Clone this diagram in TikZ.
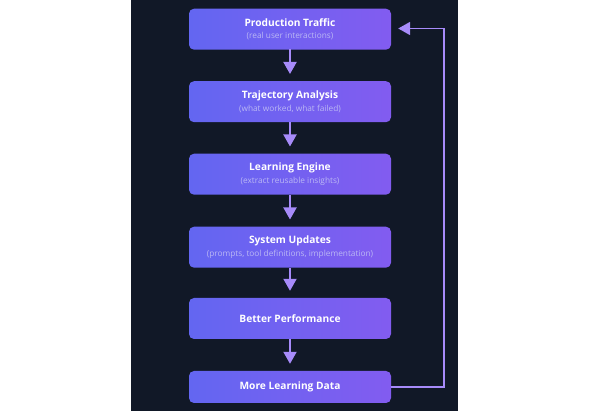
\documentclass[tikz,border=0pt]{standalone}
\usepackage{fontspec}
\setmainfont{Open Sans}
\usetikzlibrary{arrows.meta}
\definecolor{bgdark}{HTML}{111827}
\definecolor{boxleft}{HTML}{6366F1}
\definecolor{boxright}{HTML}{825CF0}
\definecolor{arrowc}{HTML}{A78BFA}
\definecolor{subc}{HTML}{BBB8F4}
\tikzset{
  stage/.style={rectangle, rounded corners=5pt, minimum width=202pt, minimum height=41pt,
    left color=boxleft, right color=boxright, draw=none, inner sep=0pt, align=center,
    text=white, font=\fontsize{10.2pt}{11pt}\bfseries},
  flow/.style={draw=arrowc, line width=2pt, -{Triangle[length=12pt,width=13pt]}, shorten >=7pt},
}
\newcommand{\subtxt}[1]{\\[1.5pt]{\fontsize{8.3pt}{8pt}\mdseries\color{subc}#1}}
\begin{document}
\begin{tikzpicture}[x=1pt,y=-1pt]
\useasboundingbox (0,0) rectangle (590,411);
\fill[white] (0,0) rectangle (590,411);
\fill[bgdark] (131,0) rectangle (458,411);
\node[stage] (pt) at (290,29.2) {Production Traffic\subtxt{(real user interactions)}};
\node[stage] (ta) at (290,101.7) {Trajectory Analysis\subtxt{(what worked, what failed)}};
\node[stage] (le) at (290,174.2) {Learning Engine\subtxt{(extract reusable insights)}};
\node[stage] (su) at (290,247.2) {System Updates\subtxt{(prompts, tool definitions, implementation)}};
\node[stage] (bp) at (290,318.5) {Better Performance};
\node[stage, minimum height=32pt] (ml) at (290,387) {More Learning Data};
\coordinate (c1) at (444,387);
\coordinate (c2) at (444,28.5);
\draw[flow] (pt.south |- 0,49) -- (ta);
\draw[flow] (ta) -- (le);
\draw[flow] (le) -- (su);
\draw[flow] (su) -- (bp);
\draw[flow] (bp) -- (ml);
\draw[flow, line width=1.8pt] (ml.east) -- (c1) -- (c2) -- (pt.east |- c2);
\end{tikzpicture}
\end{document}
